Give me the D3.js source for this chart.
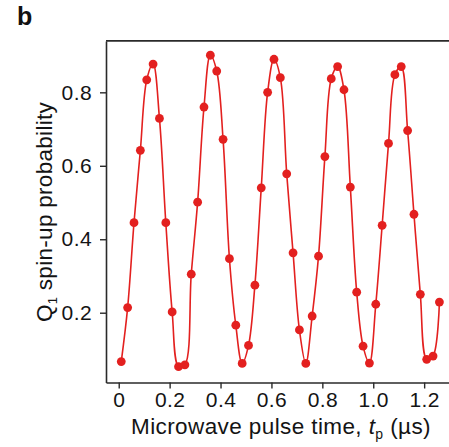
<!DOCTYPE html>
<html>
<head>
<meta charset="utf-8">
<script src="https://cdn.jsdelivr.net/npm/d3@7"></script>
<style>
  html, body { margin: 0; padding: 0; background: #fff; }
  svg { display: block; }
  text { font-family: "Liberation Sans", Arial, sans-serif; }
</style>
</head>
<body>
<svg id="chart" width="449" height="447"></svg>
<script>
// Rabi oscillation of Q1: pulse time (µs) and measured spin-up probability
const pulseTime = [
  0.010, 0.035, 0.060, 0.085, 0.110, 0.135, 0.160, 0.185, 0.210, 0.235,
  0.260, 0.285, 0.310, 0.335, 0.360, 0.385, 0.410, 0.435, 0.460, 0.485,
  0.510, 0.535, 0.560, 0.585, 0.610, 0.635, 0.660, 0.685, 0.710, 0.735,
  0.760, 0.785, 0.810, 0.835, 0.860, 0.885, 0.910, 0.935, 0.960, 0.985,
  1.010, 1.035, 1.060, 1.085, 1.110, 1.135, 1.160, 1.185, 1.210, 1.235,
  1.260
];
const spinUpProb = [
  0.067, 0.214, 0.445, 0.642, 0.834, 0.877, 0.729, 0.445, 0.202, 0.053,
  0.058, 0.305, 0.501, 0.760, 0.901, 0.858, 0.672, 0.347, 0.166, 0.062,
  0.111, 0.275, 0.540, 0.800, 0.890, 0.840, 0.578, 0.363, 0.153, 0.062,
  0.191, 0.354, 0.625, 0.837, 0.870, 0.807, 0.542, 0.256, 0.109, 0.063,
  0.223, 0.438, 0.661, 0.848, 0.870, 0.696, 0.468, 0.250, 0.073, 0.082,
  0.229
];
const xTickValues = [0, 0.2, 0.4, 0.6, 0.8, 1.0, 1.2];
const xTickLabels = ["0", "0.2", "0.4", "0.6", "0.8", "1.0", "1.2"];
const yTickValues = [0.2, 0.4, 0.6, 0.8];
const yTickLabels = ["0.2", "0.4", "0.6", "0.8"];

const red = "#e3201f";
const axisColor = "#2a2a2a";
const textColor = "#141414";

const svg = d3.select("#chart");

const x = d3.scaleLinear().domain([-0.05, 1.3]).range([106, 449.6]);
const y = d3.scaleLinear().domain([0.01, 0.94]).range([382.5, 40.9]);

const points = pulseTime.map((t, i) => ({ t, p: spinUpProb[i] }));

// Frame: top spine (left and bottom come from the axes)
const [x0, x1] = x.range();
const [yb, yt] = y.range();
svg.append("line").attr("x1", x0).attr("x2", x1).attr("y1", yt).attr("y2", yt)
  .attr("stroke", axisColor).attr("stroke-width", 1.6);

// Axes
const xAxis = d3.axisBottom(x)
  .tickValues(xTickValues)
  .tickFormat((d, i) => xTickLabels[i])
  .tickSizeInner(6).tickSizeOuter(0).tickPadding(4);
const gx = svg.append("g").attr("transform", `translate(0,${yb})`).call(xAxis);

const yAxis = d3.axisLeft(y)
  .tickValues(yTickValues)
  .tickFormat((d, i) => yTickLabels[i])
  .tickSizeInner(6).tickSizeOuter(0).tickPadding(8);
const gy = svg.append("g").attr("transform", `translate(${x0},0)`).call(yAxis);

[gx, gy].forEach(g => {
  g.select(".domain").attr("stroke", axisColor).attr("stroke-width", 1.6);
  g.selectAll(".tick line").attr("stroke", axisColor).attr("stroke-width", 1.4);
  g.selectAll(".tick text")
    .attr("fill", textColor)
    .style("font-family", "'Liberation Sans', Arial, sans-serif")
    .style("font-size", "21px")
    .style("letter-spacing", "0.4px");
});

// Oscillation trace through the measured points
const line = d3.line()
  .x(d => x(d.t))
  .y(d => y(d.p))
  .curve(d3.curveCatmullRom.alpha(0.5));

svg.append("path")
  .datum(points)
  .attr("fill", "none")
  .attr("stroke", red)
  .attr("stroke-width", 1.6)
  .attr("d", line);

svg.append("g")
  .selectAll("circle")
  .data(points)
  .join("circle")
  .attr("cx", d => x(d.t))
  .attr("cy", d => y(d.p))
  .attr("r", 4.4)
  .attr("fill", red);

// Axis titles
const xTitle = svg.append("text")
  .attr("x", 281)
  .attr("y", 434)
  .attr("text-anchor", "middle")
  .attr("fill", textColor)
  .style("font-size", "22.5px")
  .style("letter-spacing", "0.4px");
xTitle.append("tspan").text("Microwave pulse time, ");
xTitle.append("tspan").attr("font-style", "italic").text("t");
xTitle.append("tspan").attr("font-size", "14px").attr("dy", 5).text("p");
xTitle.append("tspan").attr("dy", -5).text(" (µs)");

const yTitle = svg.append("text")
  .attr("transform", "translate(52,212) rotate(-90)")
  .attr("text-anchor", "middle")
  .attr("fill", textColor)
  .style("font-size", "22.5px")
  .style("letter-spacing", "0.3px");
yTitle.append("tspan").text("Q");
yTitle.append("tspan").attr("font-size", "13px").attr("dy", 5).text("1");
yTitle.append("tspan").attr("dy", -5).text(" spin-up probability");

// Panel letter
svg.append("text")
  .attr("x", 17)
  .attr("y", 25)
  .attr("fill", "#111")
  .style("font-size", "25px")
  .style("font-weight", "bold")
  .text("b");
</script>
</body>
</html>
